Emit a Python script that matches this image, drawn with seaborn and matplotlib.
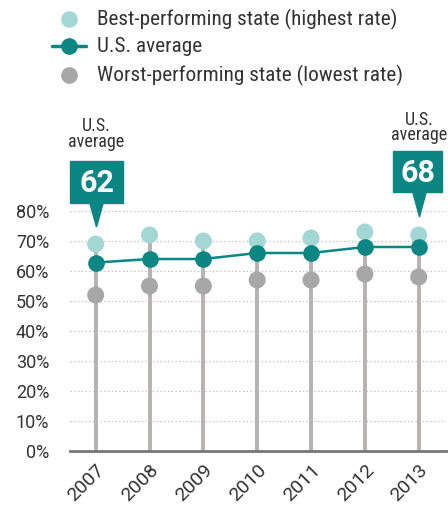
import numpy as np
import pandas as pd
import seaborn as sns
import matplotlib.pyplot as plt
from matplotlib.lines import Line2D
from matplotlib.patches import Polygon, Rectangle

years = ["2007", "2008", "2009", "2010", "2011", "2012", "2013"]
best = [69, 72, 70, 70, 71, 73, 72]
us_avg = [62.8, 64, 64, 66, 66, 68, 68]
worst = [52, 55, 55, 57, 57, 59, 58]
yticks = [0, 10, 20, 30, 40, 50, 60, 70, 80]
callout_labels = ["62", "68"]

TEAL = "#0b8683"
LIGHT = "#a3d7d4"
GRAY = "#a7a7a7"
STEM = "#b5b2b2"
TXT = "#333333"

sns.set_style("white")
plt.rcParams["font.family"] = ["Roboto Condensed", "Roboto", "DejaVu Sans"]
REG = ["Roboto", "DejaVu Sans"]

df = pd.DataFrame({"x": np.arange(len(years)), "best": best, "avg": us_avg, "worst": worst})

W, H = 448, 508
fig = plt.figure(figsize=(W / 100, H / 100), dpi=100)
ax = fig.add_axes([70 / W, 1 - 451 / H, (446 - 70) / W, (451 - 211) / H])

# dotted gridlines
for t in yticks[1:]:
    ax.axhline(t, color="#bdbdbd", lw=0.9, ls=(0, (1, 2)), zorder=0)

# stems from zero up to best value
ax.vlines(df["x"], 0, df["best"], color=STEM, lw=2.8, zorder=1)

sns.scatterplot(data=df, x="x", y="best", ax=ax, color=LIGHT, s=150, edgecolor="none", zorder=3, clip_on=False)
sns.scatterplot(data=df, x="x", y="worst", ax=ax, color=GRAY, s=150, edgecolor="none", zorder=3, clip_on=False)
sns.lineplot(data=df, x="x", y="avg", ax=ax, color=TEAL, lw=1.8, marker="o", markersize=12,
             markeredgecolor="none", zorder=4, clip_on=False)

ax.set_xlim(-0.477, 6.507)
ax.set_ylim(0, 80)
ax.set_yticks(yticks)
ax.set_yticklabels([f"{t}%" for t in yticks], fontsize=13, color=TXT, family=REG)
ax.set_xticks(df["x"])
ax.set_xticklabels(years, rotation=45, ha="right", rotation_mode="anchor", fontsize=14, color=TXT, family=REG)
ax.tick_params(axis="y", length=0, pad=15)
ax.tick_params(axis="x", length=0, pad=7)
ax.set_xlabel("")
ax.set_ylabel("")
for s in ["top", "right", "left"]:
    ax.spines[s].set_visible(False)
ax.spines["bottom"].set_color("#777777")
ax.spines["bottom"].set_linewidth(2)


def px(x, y):
    return (x / W, 1 - y / H)


# callouts (figure pixel coords)
callouts = [
    (70, 123, 161, 203, 96.5, 227, 96.5, 134, 0.86),
    (393, 442, 151, 192, 419.5, 217, 419, 127.5, 0.74),
]
for (x0, x1, y0, y1, tx, ty, lx, ly, lsp), lab in zip(callouts, callout_labels):
    fig.patches.append(Rectangle(px(x0, y1), (x1 - x0) / W, (y1 - y0) / H,
                                 transform=fig.transFigure, color=TEAL, zorder=5))
    fig.patches.append(Polygon([px(tx - 7, y1 - 1), px(tx + 7, y1 - 1), px(tx, ty)],
                               closed=True, transform=fig.transFigure, color=TEAL, zorder=5))
    fig.text(*px((x0 + x1) / 2, (y0 + y1) / 2 + 1), lab, color="white", fontsize=22, fontweight="bold",
             ha="center", va="center", zorder=6, family=REG)
    fig.text(*px(lx, ly), "U.S.\naverage", color=TXT, fontsize=13, ha="center", va="center",
             multialignment="center", linespacing=lsp)

# legend
leg = [
    (19, "Best-performing state (highest rate)", LIGHT, False),
    (46, "U.S. average", TEAL, True),
    (75, "Worst-performing state (lowest rate)", GRAY, False),
]
for y, lab, c, line in leg:
    if line:
        fig.add_artist(Line2D([52 / W, 86 / W], [1 - y / H] * 2, color=TEAL, lw=2.5,
                              transform=fig.transFigure))
    fig.add_artist(Line2D([69 / W], [1 - y / H], marker="o", markersize=12, color=c,
                          markeredgecolor="none", transform=fig.transFigure))
    fig.text(*px(97, y), lab, color=TXT, fontsize=15.3, ha="left", va="center")

fig.savefig("out.png", dpi=100)
